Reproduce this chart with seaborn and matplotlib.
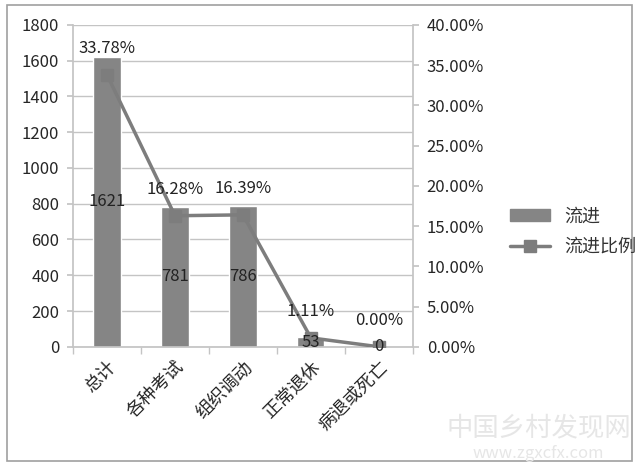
import numpy as np
import matplotlib
matplotlib.use("Agg")
import matplotlib.pyplot as plt
import seaborn as sns
from matplotlib.patches import Rectangle
from matplotlib.lines import Line2D

# DATOS
categorias = ["总计", "各种考试", "组织调动", "正常退休", "病退或死亡"]
liujin = [1621, 781, 786, 53, 0]
bili = [33.78, 16.28, 16.39, 1.11, 0.00]

sns.set_theme(style="white")
plt.rcParams["font.family"] = ["Noto Sans CJK SC", "DejaVu Sans"]

fig = plt.figure(figsize=(6.41, 4.68), dpi=100)
ax = fig.add_axes([0.114, 0.259, 0.530, 0.688])

BAR = "#858585"
LINE = "#7d7d7d"
GRID = "#c4c4c4"

sns.barplot(x=categorias, y=liujin, color=BAR, width=0.4, ax=ax,
            saturation=1, zorder=2)
ax.set_ylim(0, 1800)
ax.set_xlim(-0.5, 4.5)
ax.set_yticks(range(0, 1801, 200))
ax.yaxis.grid(True, color=GRID, lw=1)
ax.set_axisbelow(True)
for s in ["top", "right"]:
    ax.spines[s].set_visible(False)
for s in ["left", "bottom"]:
    ax.spines[s].set_color(GRID)
ax.tick_params(axis="y", left=True, length=4, color=GRID, labelsize=12, pad=6)
ax.set_xticks(range(5))
ax.set_xticklabels(categorias, rotation=45, ha="right", rotation_mode="anchor",
                   fontsize=13)
ax.tick_params(axis="x", length=0, pad=8)
ax.set_xticks(np.arange(-0.5, 5, 1), minor=True)
ax.tick_params(axis="x", which="minor", bottom=True, length=5, color=GRID)

# SEGUNDO EJE
ax2 = ax.twinx()
ax2.plot(np.arange(len(bili)), bili, color=LINE, lw=2.5, marker="s",
         markersize=9, zorder=3)
ax2.set_ylim(0, 40)
ax2.set_yticks(range(0, 41, 5))
ax2.set_yticklabels([f"{v:.2f}%" for v in range(0, 41, 5)])
for s in ["top", "left", "bottom"]:
    ax2.spines[s].set_visible(False)
ax2.spines["right"].set_color(GRID)
ax2.tick_params(axis="y", right=True, length=4, color=GRID, labelsize=12, pad=6)

# ETIQUETAS (encima de la linea)
for i, v in enumerate(liujin):
    ax2.text(i, v / 2, str(v), ha="center", va="center", fontsize=12,
             color="#222222", zorder=5, transform=ax.transData)
for i, p in enumerate(bili):
    ax2.text(i, p + 2.2, f"{p:.2f}%", ha="center", va="bottom", fontsize=12,
             color="#222222", zorder=5)

# LEYENDA
handles = [Rectangle((0, 0), 1, 1, color=BAR),
           Line2D([], [], color=LINE, lw=2.5, marker="s", markersize=9)]
fig.legend(handles, ["流进", "流进比例"], loc="center left",
           bbox_to_anchor=(0.77, 0.505), frameon=False, fontsize=13,
           handlelength=2.2, labelspacing=0.7, labelcolor="#333333")

# MARCO Y MARCA DE AGUA
fig.patches.append(Rectangle((0.011, 0.015), 0.975, 0.975, transform=fig.transFigure,
                             fill=False, edgecolor="#a0a0a0", lw=1.2))
fig.text(0.84, 0.085, "中国乡村发现网", ha="center", va="center", fontsize=19,
         color="#e6e6e6")
fig.text(0.84, 0.03, "www.zgxcfx.com", ha="center", va="center", fontsize=12,
         color="#e6e6e6")

fig.savefig("out.png", dpi=100)
